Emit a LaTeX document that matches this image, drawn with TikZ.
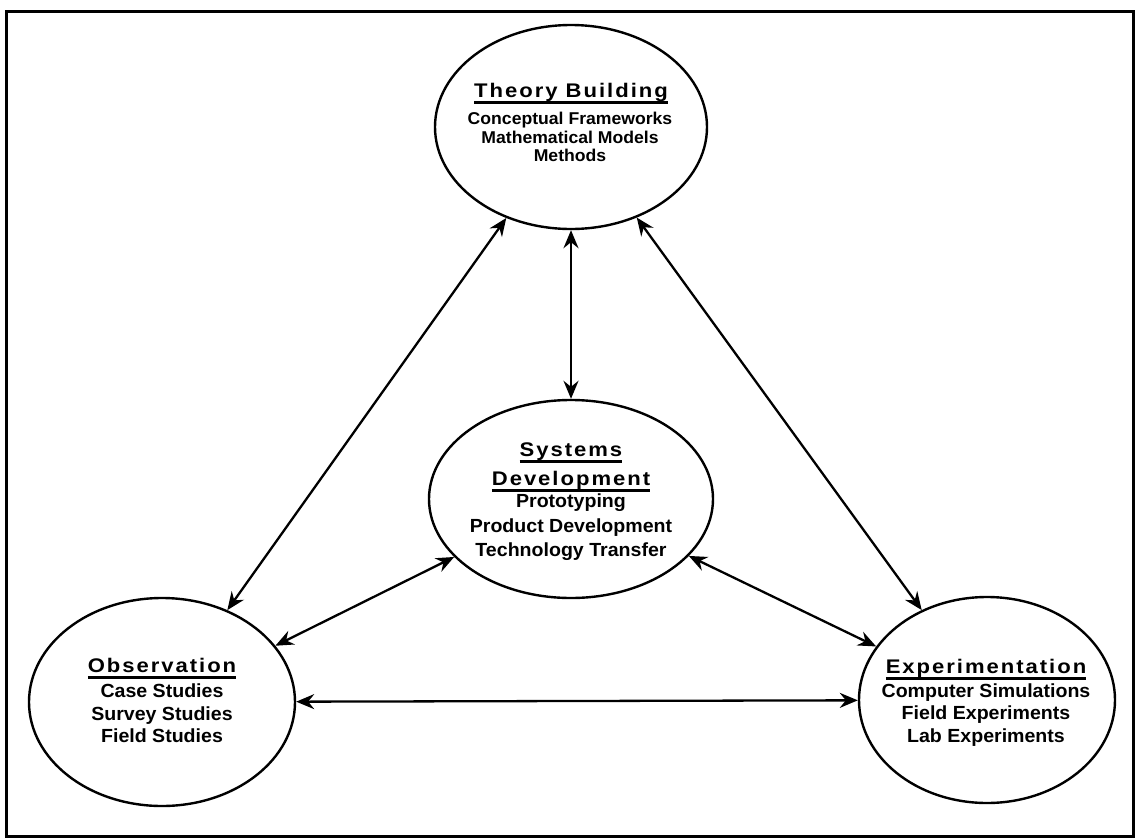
\documentclass[tikz,border=0pt]{standalone}
\usepackage{fontspec}
\setmainfont{Liberation Sans}
\newfontfamily\ttlfam{Liberation Sans}[FakeStretch=1.12,LetterSpace=10]
\newfontfamily\bodyfam{Liberation Sans}[FakeStretch=1.03]
\usetikzlibrary{shapes.geometric,arrows.meta}
\newcommand\ulx[1]{\setbox0\hbox{#1}\rlap{\rule[-6.5pt]{\wd0}{2.2pt}}\box0}
\tikzset{
  ell/.style={ellipse, draw, line width=2.4pt, inner sep=0pt},
  ttl/.style={anchor=base, inner sep=0pt, font=\ttlfam\bfseries\fontsize{19.7pt}{22pt}\selectfont},
  bod/.style={anchor=base, inner sep=0pt, font=\bodyfam\bfseries\fontsize{19pt}{22pt}\selectfont},
  bods/.style={anchor=base, inner sep=0pt, font=\bodyfam\bfseries\fontsize{17.1pt}{20pt}\selectfont},
  dbl/.style={{Stealth[length=18pt,width=15pt,inset=6pt]}-{Stealth[length=18pt,width=15pt,inset=6pt]}, line width=2.3pt},
}
\begin{document}
\begin{tikzpicture}[x=1pt,y=-1pt]
\useasboundingbox (0,0) rectangle (1136,839);
\draw[line width=3pt] (6,11) rectangle (1133,836);

% ellipses
\node[ell, minimum width=272pt, minimum height=204pt] (tb) at (571,127) {};
\node[ell, minimum width=284pt, minimum height=198pt] (sd) at (571,499) {};
\node[ell, minimum width=266pt, minimum height=208pt] (ob) at (162,702) {};
\node[ell, minimum width=256pt, minimum height=206pt] (ex) at (987,700) {};

% Theory Building
\node[ttl] (tb1) at (571,97) {\ulx{Theory Building}};
\node[bods] (tb2) at (570,124) {Conceptual Frameworks};
\node[bods] (tb3) at (570,143) {Mathematical Models};
\node[bods] (tb4) at (570,161) {Methods};

% Systems Development
\node[ttl] (sd1) at (571,456) {\ulx{Systems}};
\node[ttl] (sd2) at (571,485) {\ulx{Development}};
\node[bod] (sd3) at (571,507) {Prototyping};
\node[bod] (sd4) at (571,532) {Product Development};
\node[bod] (sd5) at (571,556) {Technology Transfer};

% Observation
\node[ttl] (ob1) at (162,672) {\ulx{Observation}};
\node[bod] (ob2) at (162,697) {Case Studies};
\node[bod] (ob3) at (162,720) {Survey Studies};
\node[bod] (ob4) at (162,742) {Field Studies};

% Experimentation
\node[ttl] (ex1) at (986,673) {\ulx{Experimentation}};
\node[bod] (ex2) at (986,697) {Computer Simulations};
\node[bod] (ex3) at (986,719) {Field Experiments};
\node[bod] (ex4) at (986,742) {Lab Experiments};

% connectors
\draw[dbl] (tb) -- (ob);
\draw[dbl] (tb) -- (sd);
\draw[dbl] (tb) -- (ex);
\draw[dbl] (sd) -- (ob);
\draw[dbl] (sd) -- (ex);
\draw[dbl] (ob) -- (ex);
\end{tikzpicture}
\end{document}
